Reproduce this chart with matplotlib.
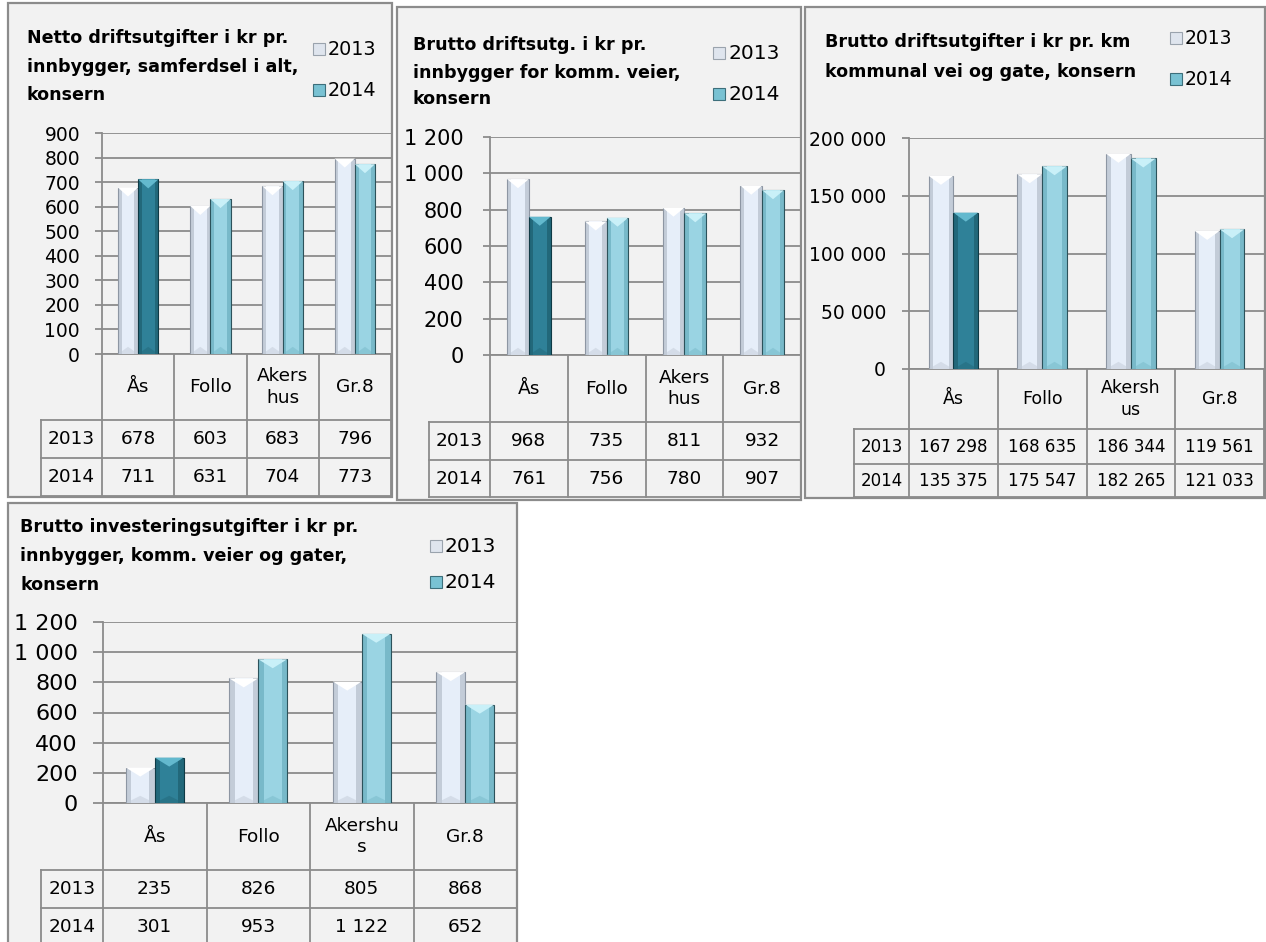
import numpy as np
import matplotlib.pyplot as plt
from matplotlib.patches import Rectangle, Polygon
from matplotlib.ticker import FuncFormatter

W, H = 1266, 942
series = ['2013', '2014']

# Chart 1
title_1 = ['Netto driftsutgifter i kr pr.', 'innbygger, samferdsel i alt,', 'konsern']
cats_1 = ['Ås', 'Follo', 'Akers\nhus', 'Gr.8']
v2013_1 = [678, 603, 683, 796]
v2014_1 = [711, 631, 704, 773]

# Chart 2
title_2 = ['Brutto driftsutg. i kr pr.', 'innbygger for komm. veier,', 'konsern']
cats_2 = ['Ås', 'Follo', 'Akers\nhus', 'Gr.8']
v2013_2 = [968, 735, 811, 932]
v2014_2 = [761, 756, 780, 907]

# Chart 3
title_3 = ['Brutto driftsutgifter i kr pr. km', 'kommunal vei og gate, konsern']
cats_3 = ['Ås', 'Follo', 'Akersh\nus', 'Gr.8']
v2013_3 = [167298, 168635, 186344, 119561]
v2014_3 = [135375, 175547, 182265, 121033]

# Chart 4
title_4 = ['Brutto investeringsutgifter i kr pr.', 'innbygger, komm. veier og gater,', 'konsern']
cats_4 = ['Ås', 'Follo', 'Akershu\ns', 'Gr.8']
v2013_4 = [235, 826, 805, 868]
v2014_4 = [301, 953, 1122, 652]

GRID = '#8c8c8c'
BG = '#f2f2f2'


def fmt(v):
    return f'{v:,.0f}'.replace(',', ' ')


fig = plt.figure(figsize=(W / 100, H / 100), dpi=100)
fig.patch.set_facecolor('white')
bg = fig.add_axes([0, 0, 1, 1])
bg.set_xlim(0, W)
bg.set_ylim(H, 0)
bg.axis('off')


def draw_chart(panel, title, title_x, title_y, title_fs, leg, cats, v13, v14,
               plot, ymax, step, tick_fs, tick_len, pad, rows, lab_x, table_fs, cat_fs):
    px0, py0, px1, py1 = panel
    bg.add_patch(Rectangle((px0, py0), px1 - px0, py1 - py0, facecolor=BG,
                           edgecolor=GRID, lw=1.6))
    for line, y in zip(title, title_y):
        bg.text(title_x, y, line, fontsize=title_fs, fontweight='bold', va='baseline', ha='left')
    # legend
    lx, ly13, ly14, lfs = leg
    for name, y, fc, ec in [(series[0], ly13, '#dfe5ee', '#9aa3ad'),
                            (series[1], ly14, '#79c2d3', '#3d6f7b')]:
        bg.add_patch(Rectangle((lx, y - 12), 12, 12, facecolor=fc, edgecolor=ec, lw=0.8))
        bg.text(lx + 15, y, name, fontsize=lfs, va='baseline', ha='left')

    x0, y0, x1, y1 = plot
    ax = fig.add_axes([x0 / W, 1 - y1 / H, (x1 - x0) / W, (y1 - y0) / H])
    ax.set_facecolor('none')
    ax.set_xlim(-0.5, 3.5)
    ax.set_ylim(0, ymax)
    ax.set_yticks(np.arange(0, ymax + step, step))
    ax.yaxis.set_major_formatter(FuncFormatter(lambda v, p: fmt(v)))
    ax.set_xticks([])
    ax.grid(axis='y', color=GRID, lw=1.3)
    ax.set_axisbelow(True)
    for s in ['top', 'right']:
        ax.spines[s].set_visible(False)
    for s in ['left', 'bottom']:
        ax.spines[s].set_color(GRID)
        ax.spines[s].set_linewidth(1.3)
    ax.tick_params(axis='y', length=tick_len, width=1.3, color=GRID,
                   labelsize=tick_fs, pad=pad)

    x = np.arange(len(cats))
    bw = 0.28
    dpx = ymax / (y1 - y0)
    for i in range(len(cats)):
        dark = i == 0
        styles = [
            (x[i] - bw / 2, v13[i], '#c3ccd8', '#e6eef9', '#ffffff', '#8d96a3'),
            (x[i] + bw / 2, v14[i],
             '#22687a' if dark else '#78b9c9',
             '#2f8198' if dark else '#9ad4e3',
             '#63b9ce' if dark else '#c9f0f8',
             '#0f3a45' if dark else '#2c525b'),
        ]
        for cx, v, outer, inner, top, edge in styles:
            ax.bar(cx, v, bw, color=outer, edgecolor=edge, lw=0.8, zorder=3)
            ax.bar(cx, v, bw * 0.62, color=inner, lw=0, zorder=4)
            d = 9 * dpx
            ax.add_patch(Polygon([[cx - bw / 2, v], [cx + bw / 2, v], [cx, v - d]],
                                 closed=True, facecolor=top, lw=0, zorder=5))
            ax.add_patch(Polygon([[cx - bw / 2, 0], [cx + bw / 2, 0], [cx, d * 0.8]],
                                 closed=True, facecolor=outer, alpha=0.5, lw=0, zorder=5))

    # data table
    cols = [lab_x, x0] + [x0 + (x1 - x0) * k / 4 for k in range(1, 5)]
    r0, r1, r2, r3 = rows
    for xc in cols[1:]:
        bg.plot([xc, xc], [r0, r3], color=GRID, lw=1.3)
    bg.plot([cols[0], cols[0]], [r1, r3], color=GRID, lw=1.3)
    for yr in [r1, r2, r3]:
        bg.plot([cols[0], cols[-1]], [yr, yr], color=GRID, lw=1.3)
    for i, c in enumerate(cats):
        cx = (cols[i + 1] + cols[i + 2]) / 2
        bg.text(cx, (r0 + r1) / 2, c, fontsize=cat_fs, ha='center', va='center',
                linespacing=1.25)
        bg.text(cx, (r1 + r2) / 2, fmt(v13[i]), fontsize=table_fs, ha='center', va='center')
        bg.text(cx, (r2 + r3) / 2, fmt(v14[i]), fontsize=table_fs, ha='center', va='center')
    bg.text((cols[0] + cols[1]) / 2, (r1 + r2) / 2, series[0], fontsize=table_fs,
            ha='center', va='center')
    bg.text((cols[0] + cols[1]) / 2, (r2 + r3) / 2, series[1], fontsize=table_fs,
            ha='center', va='center')


draw_chart((8, 3, 392, 497), title_1, 27, [43, 71.5, 100], 12.6, (313, 55, 96, 13.8),
           cats_1, v2013_1, v2014_1, (102, 133, 391, 354), 900, 100, 13.5, 5, 10.8,
           (354, 420, 458, 496), 41, 13.3, 13.3)
draw_chart((397, 7, 801, 500), title_2, 413, [50, 77.5, 104], 12.6, (713, 59, 100, 14.5),
           cats_2, v2013_2, v2014_2, (490, 137, 801, 355), 1200, 200, 15, 5, 14,
           (355, 422, 460, 497), 429, 13.3, 13.3)
draw_chart((805, 7, 1265, 498), title_3, 825, [47, 77], 12.6, (1170, 44, 85, 13.5),
           cats_3, v2013_3, v2014_3, (909, 138, 1264, 369), 200000, 50000, 13.5, 5, 11.5,
           (369, 429, 464, 497), 854, 12, 12.5)
draw_chart((8, 503, 517, 960), title_4, 20, [532, 561, 590], 12.6, (430, 552, 588, 14.5),
           cats_4, v2013_4, v2014_4, (103, 622, 517, 803), 1200, 200, 16, 7, 11,
           (803, 870, 908, 946), 41, 13.3, 13.3)

fig.savefig('out.png', dpi=100, facecolor='white')
